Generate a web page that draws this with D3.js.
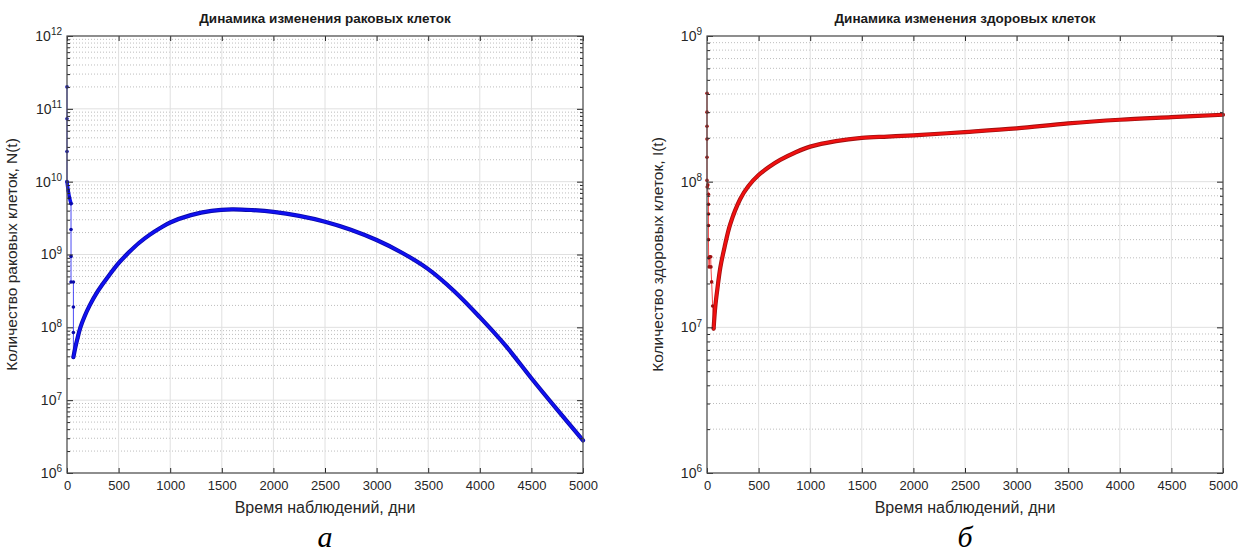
<!DOCTYPE html>
<html>
<head>
<meta charset="utf-8">
<script src="https://cdn.jsdelivr.net/npm/d3@7"></script>
<style>
body { margin: 0; background: #fff; }
text { font-family: "Liberation Sans", Arial, sans-serif; fill: #262626; }
</style>
</head>
<body>
<script>
// ticks
const xTicks = [0, 500, 1000, 1500, 2000, 2500, 3000, 3500, 4000, 4500, 5000];
const cancerDecades = [1e6, 1e7, 1e8, 1e9, 1e10, 1e11, 1e12];
const healthyDecades = [1e6, 1e7, 1e8, 1e9];

// cancer cells N(t), main curve
const cancerT = [62, 80, 100, 130, 170, 220, 300, 400, 500, 600, 700, 800, 900, 1000, 1200, 1400, 1600, 1800, 2000, 2250, 2500, 2750, 3000, 3250, 3500, 3750, 4000, 4250, 4500, 4750, 5000];
const cancerN = [3.9e7, 5.25e7, 6.9e7, 1.0e8, 1.41e8, 2.0e8, 3.16e8, 5.0e8, 7.6e8, 1.07e9, 1.45e9, 1.86e9, 2.29e9, 2.75e9, 3.47e9, 3.98e9, 4.17e9, 4.07e9, 3.85e9, 3.39e9, 2.82e9, 2.19e9, 1.58e9, 1.05e9, 6.3e8, 3.16e8, 1.38e8, 5.6e7, 2.0e7, 7.4e6, 2.8e6];
// cancer cells, first days (sparse points)
const cancerEarlyT = [0, 0, 0, 0, 12, 25, 39, 39, 39, 39, 62, 62, 62, 62];
const cancerEarlyN = [2.0e11, 7.3e10, 2.6e10, 1.0e10, 7.5e9, 6.0e9, 5.0e9, 2.2e9, 9.4e8, 4.2e8, 4.2e8, 1.9e8, 8.5e7, 3.9e7];

// healthy cells I(t), main curve
const healthyT = [64, 80, 100, 129, 170, 225, 322, 400, 500, 600, 709, 850, 1000, 1250, 1500, 1750, 2000, 2500, 3000, 3500, 4000, 4500, 5000];
const healthyI = [9.8e6, 1.38e7, 1.82e7, 2.57e7, 3.55e7, 5.1e7, 7.6e7, 9.3e7, 1.11e8, 1.26e8, 1.41e8, 1.58e8, 1.74e8, 1.9e8, 2.0e8, 2.04e8, 2.08e8, 2.19e8, 2.32e8, 2.51e8, 2.66e8, 2.77e8, 2.88e8];
// healthy cells, first days
const healthyEarlyT = [0, 0, 0, 0, 0, 0, 8, 2, 14, 14, 14, 14, 14, 16, 20, 26, 36, 38, 45, 55, 64];
const healthyEarlyI = [4.05e8, 3.0e8, 2.4e8, 1.96e8, 1.47e8, 1.02e8, 9.5e7, 9.2e7, 8.2e7, 7.0e7, 6.0e7, 5.0e7, 4.0e7, 3.0e7, 2.6e7, 3.05e7, 3.05e7, 2.6e7, 2.05e7, 1.4e7, 9.8e6];

const width = 1240, height = 554;
const top0 = 36, bottom0 = 473;

const svg = d3.select("body").append("svg")
    .attr("width", width)
    .attr("height", height);

function panel(o) {
    const x = d3.scaleLinear().domain([0, 5000]).range([o.left, o.right]);
    const y = d3.scaleLog().domain([o.decades[0], o.decades[o.decades.length - 1]]).range([bottom0, top0]);
    const g = svg.append("g");

    const minors = y.ticks().filter(v => !o.decades.includes(v));

    // minor grid (dotted)
    g.append("g").selectAll("line").data(minors).enter().append("line")
        .attr("x1", o.left).attr("x2", o.right)
        .attr("y1", d => y(d)).attr("y2", d => y(d))
        .attr("stroke", "#bdbdbd").attr("stroke-width", 1)
        .attr("stroke-dasharray", "1,2");

    // major grid
    g.append("g").selectAll("line").data(xTicks).enter().append("line")
        .attr("x1", d => x(d)).attr("x2", d => x(d))
        .attr("y1", top0).attr("y2", bottom0)
        .attr("stroke", "#e0e0e0");
    g.append("g").selectAll("line").data(o.decades).enter().append("line")
        .attr("x1", o.left).attr("x2", o.right)
        .attr("y1", d => y(d)).attr("y2", d => y(d))
        .attr("stroke", "#e0e0e0");

    // early sparse part
    const early = o.earlyT.map((t, i) => [t, o.earlyV[i]]);
    const lineLin = d3.line().x(d => x(d[0])).y(d => y(d[1]));
    g.append("path").datum(early)
        .attr("d", lineLin)
        .attr("fill", "none").attr("stroke", o.color).attr("stroke-opacity", 0.75)
        .attr("stroke-width", 1);
    if (o.headFrom !== undefined) {
        g.append("path").datum(early.slice(o.headFrom, o.headTo))
            .attr("d", d3.line().x(d => x(d[0])).y(d => y(d[1])).curve(d3.curveMonotoneX))
            .attr("fill", "none").attr("stroke", o.color)
            .attr("stroke-width", 3.5).attr("stroke-linecap", "round");
    }
    g.append("g").selectAll("circle").data(early).enter().append("circle")
        .attr("cx", d => x(d[0])).attr("cy", d => y(d[1]))
        .attr("r", 1.8).attr("fill", o.dark);

    // main curve
    const main = o.t.map((t, i) => [t, o.v[i]]);
    const line = d3.line().x(d => x(d[0])).y(d => y(d[1])).curve(d3.curveCatmullRom.alpha(0.5));
    g.append("path").datum(main)
        .attr("d", line)
        .attr("fill", "none").attr("stroke", o.dark)
        .attr("stroke-width", 4.2).attr("stroke-linecap", "round");
    g.append("path").datum(main)
        .attr("d", line)
        .attr("fill", "none").attr("stroke", o.color)
        .attr("stroke-width", 2.6).attr("stroke-linecap", "round");

    // axes, ticks pointing inward
    const ax = (axis, tx, ty) => {
        const a = g.append("g").attr("transform", `translate(${tx},${ty})`).call(axis);
        a.select(".domain").remove();
        a.selectAll(".tick line").attr("stroke", "#262626");
        return a;
    };
    const xb = ax(d3.axisBottom(x).tickValues(xTicks).tickSizeInner(-5).tickSizeOuter(0).tickPadding(8).tickFormat(d3.format("d")), 0, bottom0);
    xb.selectAll("text").attr("font-size", 13).attr("font-family", null).style("fill", "#262626");
    ax(d3.axisTop(x).tickValues(xTicks).tickSizeInner(-5).tickSizeOuter(0).tickFormat(""), 0, top0);

    const yl = ax(d3.axisLeft(y).tickValues(o.decades).tickSizeInner(-6).tickSizeOuter(0).tickPadding(5).tickFormat(""), o.left, 0);
    yl.selectAll(".tick text").each(function(d) {
        const t = d3.select(this).attr("font-size", 14).attr("font-family", null).style("fill", "#262626");
        t.append("tspan").text("10");
        t.append("tspan").attr("dy", "-0.55em").attr("font-size", 10).text(Math.round(Math.log10(d)));
    });
    ax(d3.axisLeft(y).tickValues(minors).tickSizeInner(-3).tickSizeOuter(0).tickFormat(""), o.left, 0);
    ax(d3.axisRight(y).tickValues(o.decades).tickSizeInner(-6).tickSizeOuter(0).tickFormat(""), o.right, 0);
    ax(d3.axisRight(y).tickValues(minors).tickSizeInner(-3).tickSizeOuter(0).tickFormat(""), o.right, 0);

    // box
    g.append("rect")
        .attr("x", o.left).attr("y", top0)
        .attr("width", o.right - o.left).attr("height", bottom0 - top0)
        .attr("fill", "none").attr("stroke", "#4d4d4d").attr("stroke-width", 1.2);

    const cx = (o.left + o.right) / 2;

    // title
    g.append("text").attr("x", cx).attr("y", 23)
        .attr("text-anchor", "middle").attr("font-size", 13.5).attr("font-weight", "bold")
        .style("fill", "#1a1a1a")
        .text(o.title);

    // axis titles
    g.append("text").attr("x", cx).attr("y", 513)
        .attr("text-anchor", "middle").attr("font-size", 16)
        .text("Время наблюдений, дни");
    g.append("text")
        .attr("transform", `translate(${o.left - o.labelGap},${(top0 + bottom0) / 2}) rotate(-90)`)
        .attr("text-anchor", "middle").attr("font-size", 15.5)
        .text(o.ylabel);

    // sub caption
    g.append("text").attr("x", cx).attr("y", 547)
        .attr("text-anchor", "middle").attr("font-size", 30)
        .attr("font-style", "italic")
        .style("font-family", "'Liberation Serif', 'DejaVu Serif', serif")
        .style("fill", "#000")
        .text(o.caption);
}

panel({
    left: 67, right: 583,
    decades: cancerDecades,
    t: cancerT, v: cancerN,
    earlyT: cancerEarlyT, earlyV: cancerEarlyN,
    headFrom: 3, headTo: 7,
    color: "#1010f0", dark: "#0a0aa8",
    labelGap: 50,
    title: "Динамика изменения раковых клеток",
    ylabel: "Количество раковых клеток, N(t)",
    caption: "а"
});

panel({
    left: 707, right: 1223,
    decades: healthyDecades,
    t: healthyT, v: healthyI,
    earlyT: healthyEarlyT, earlyV: healthyEarlyI,
    color: "#f01010", dark: "#a01010",
    labelGap: 44,
    title: "Динамика изменения здоровых клеток",
    ylabel: "Количество здоровых клеток, I(t)",
    caption: "б"
});
</script>
</body>
</html>
